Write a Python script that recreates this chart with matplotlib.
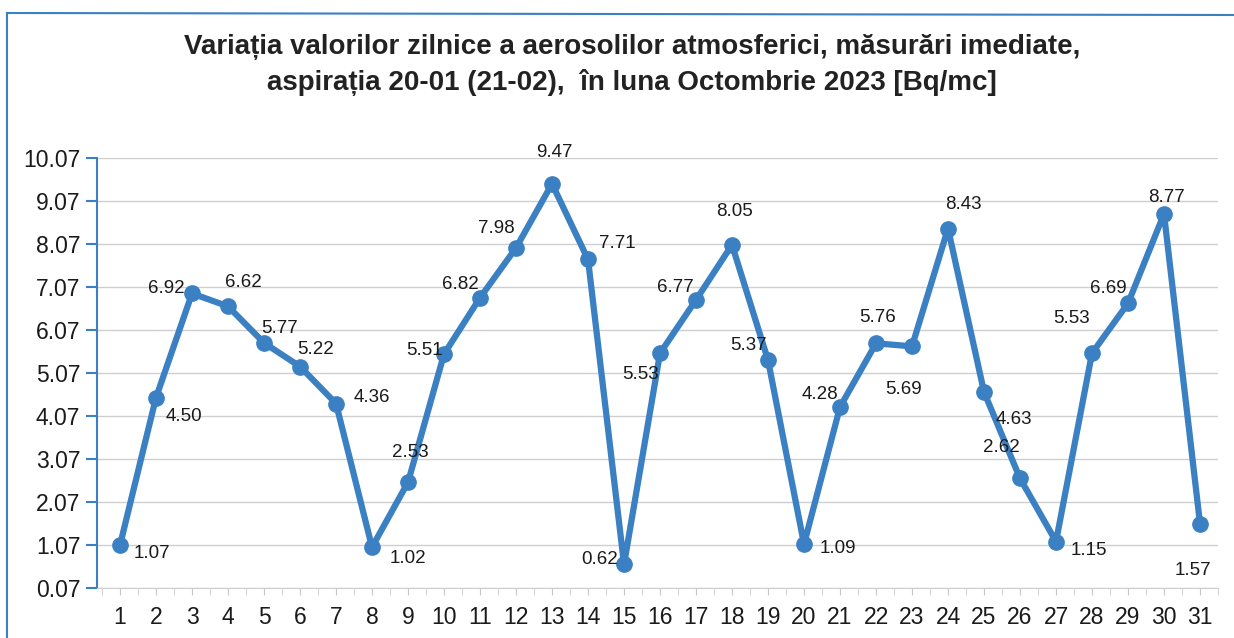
import numpy as np
import matplotlib.pyplot as plt
from matplotlib.lines import Line2D

zile = list(range(1, 32))
valori = [1.07, 4.50, 6.92, 6.62, 5.77, 5.22, 4.36, 1.02, 2.53, 5.51,
          6.82, 7.98, 9.47, 7.71, 0.62, 5.53, 6.77, 8.05, 5.37, 1.09,
          4.28, 5.76, 5.69, 8.43, 4.63, 2.62, 1.15, 5.53, 6.69, 8.77, 1.57]
etichete_y = [0.07 + i for i in range(11)]

# pozitia etichetelor fata de punct (pixeli)
deplasari = [(32, -9), (28, -19), (-26, 5), (15, 24), (16, 14), (16, 17), (36, 6),
             (36, -11), (2, 30), (-20, 4), (-20, 13), (-20, 19), (2, 31), (29, 16),
             (-24, 5), (-20, -21), (-21, 12), (2, 33), (-20, 15), (34, -4),
             (-20, 12), (2, 26), (-8, -43), (15, 24), (30, -28), (-19, 31),
             (33, -9), (-20, 35), (-20, 15), (2, 16), (-7, -47)]

albastru = "#3a80c3"

fig = plt.figure(figsize=(12.34, 6.38), dpi=100)
ax = fig.add_axes([97 / 1234, 1 - 588 / 638, (1218 - 97) / 1234, (588 - 158) / 638])

ax.plot(zile, valori, color=albastru, lw=4.5, marker="o", markersize=11,
        solid_joinstyle="round", zorder=3)

for z, v, (dx, dy) in zip(zile, valori, deplasari):
    ax.annotate(f"{v:.2f}", (z, v), xytext=(dx, dy), textcoords="offset pixels",
                ha="center", va="center", fontsize=13.5, color="#1a1a1a",
                family="Liberation Sans", zorder=4)

ax.set_xlim(0.36, 31.5)
ax.set_ylim(0.07, 10.07)
ax.set_yticks(etichete_y)
ax.set_yticklabels([f"{e:.2f}" for e in etichete_y])
ax.set_xticks(zile)
ax.set_xticks(np.arange(0.5, 32, 1), minor=True)
ax.grid(axis="y", color="#cfcfcf", lw=1)
ax.set_axisbelow(True)

for s in ["top", "right"]:
    ax.spines[s].set_visible(False)
ax.spines["left"].set_color(albastru)
ax.spines["left"].set_linewidth(1.5)
ax.spines["bottom"].set_color("#cfcfcf")

ax.tick_params(axis="y", colors=albastru, length=8, width=1.5, labelcolor="#1a1a1a",
               labelsize=16.5, pad=4)
ax.tick_params(axis="x", which="both", colors="#c8c8c8", length=5, labelcolor="#1a1a1a",
               labelsize=16.5, pad=8)
for t in ax.get_xticklabels() + ax.get_yticklabels():
    t.set_family("Liberation Sans")

fig.text(632 / 1234, 1 - 47 / 638,
         "Variația valorilor zilnice a aerosolilor atmosferici, măsurări imediate,",
         ha="center", va="center", fontsize=20, fontweight="bold", color="#222222",
         family="Liberation Sans")
fig.text(632 / 1234, 1 - 82 / 638,
         "aspirația 20-01 (21-02),  în luna Octombrie 2023 [Bq/mc]",
         ha="center", va="center", fontsize=20, fontweight="bold", color="#222222",
         family="Liberation Sans")

# chenarul albastru
fig.add_artist(Line2D([7 / 1234, 7 / 1234], [0, 1 - 13 / 638], color=albastru, lw=1.5))
fig.add_artist(Line2D([7 / 1234, 1], [1 - 13 / 638, 1 - 15 / 638], color=albastru, lw=1.5))

fig.savefig("out.png", dpi=100)
